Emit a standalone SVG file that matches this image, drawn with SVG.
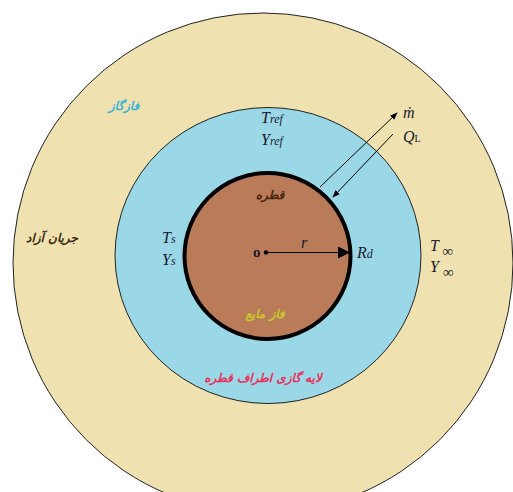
<svg xmlns="http://www.w3.org/2000/svg" width="513" height="492" viewBox="0 0 513 492">
<style>
.lat{font-family:"Liberation Serif",serif;font-style:italic;font-size:15px;fill:#1a1a2e}
.fa{font-family:"DejaVu Sans",sans-serif;font-style:italic;font-weight:bold;font-size:12px;text-anchor:middle}
.ln{stroke:#000;stroke-width:1;fill:none}
</style>
<defs>
<marker id="ah" markerWidth="8" markerHeight="8" refX="7" refY="4" orient="auto" markerUnits="userSpaceOnUse">
<path d="M0,1 L8,4 L0,7 Z" fill="#000"/>
</marker>
<marker id="ahb" markerWidth="12" markerHeight="12" refX="11" refY="6" orient="auto" markerUnits="userSpaceOnUse">
<path d="M0,0 L12,6 L0,12 Z" fill="#000"/>
</marker>
</defs>
<rect width="513" height="492" fill="#fff"/>
<g id="outer">
<circle cx="263" cy="263" r="250" fill="#efe2b0" stroke="#222" stroke-width="1"/>
</g>
<g id="middle">
<ellipse cx="268" cy="255.5" rx="153" ry="148" fill="#9ad8e8" stroke="#222" stroke-width="1"/>
</g>
<g id="inner">
<circle cx="267.5" cy="256" r="83" fill="#b97b58" stroke="#000" stroke-width="4"/>
</g>
<g id="connectors">
<line class="ln" x1="266" y1="252.5" x2="349" y2="252.5" marker-end="url(#ahb)"/>
<circle cx="266" cy="252.5" r="2.2" fill="#000"/>
<line class="ln" x1="320" y1="187" x2="397" y2="113" marker-end="url(#ah)"/>
<line class="ln" x1="393" y1="134" x2="333" y2="197" marker-end="url(#ah)"/>
</g>
<g id="labels">
<text class="fa" x="124" y="110" fill="#3bb3da">فازگاز</text>
<text class="fa" x="52" y="242" fill="#3a2a10">جریان آزاد</text>
<text class="fa" x="270" y="199" fill="#4a2410">قطره</text>
<text class="fa" x="265" y="318" fill="#c9c92e">فاز مایع</text>
<text class="fa" x="263" y="382" fill="#e8305a">لایه گازی اطراف قطره</text>
<text class="lat" x="162" y="243" style="font-size:16px">T<tspan font-size="12">s</tspan></text>
<text class="lat" x="162" y="265" style="font-size:16px">Y<tspan font-size="12">s</tspan></text>
<text class="lat" x="261" y="123" style="font-size:16px">T<tspan font-size="12">ref</tspan></text>
<text class="lat" x="261" y="145" style="font-size:16px">Y<tspan font-size="12">ref</tspan></text>
<text class="lat" x="403" y="118" style="font-size:16px">ṁ</text>
<text class="lat" x="403" y="142" style="font-size:16px">Q<tspan font-size="10" font-style="normal">L</tspan></text>
<text class="lat" x="430" y="251" style="font-size:16px">T <tspan font-size="15" font-style="normal" dy="5">∞</tspan></text>
<text class="lat" x="430" y="272" style="font-size:16px">Y <tspan font-size="15" font-style="normal" dy="5">∞</tspan></text>
<text class="lat" x="357" y="258" style="font-size:16px">R<tspan font-size="12">d</tspan></text>
<text class="lat" x="301" y="248" style="font-size:16px">r</text>
<text class="lat" x="253" y="257" style="font-style:normal;font-weight:bold;font-size:15px">o</text>
</g>
</svg>
